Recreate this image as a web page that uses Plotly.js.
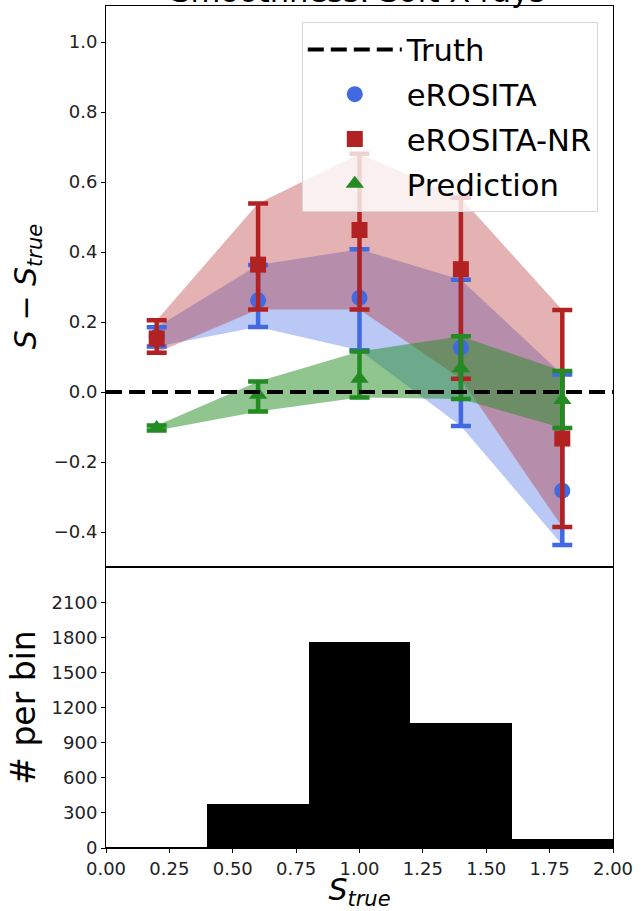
<!DOCTYPE html>
<html>
<head>
<meta charset="utf-8">
<script src="https://cdn.plot.ly/plotly-3.0.1.min.js"></script>
<style>html,body{margin:0;padding:0;background:#fff;}#chart{width:641px;height:911px;}</style>
</head>
<body>
<div id="chart"></div>
<script>
// ---- data ----
var binCenters = [0.2, 0.6, 1.0, 1.4, 1.8];
var binWidth = 0.4;
var counts = [10, 380, 1768, 1068, 77];

var erositaMid   = [0.158, 0.262, 0.269, 0.127, -0.282];
var erositaHigh  = [0.185, 0.363, 0.408, 0.321, 0.050];
var erositaLow   = [0.130, 0.186, 0.119, -0.097, -0.437];

var nrMid   = [0.153, 0.364, 0.463, 0.351, -0.133];
var nrHigh  = [0.205, 0.539, 0.681, 0.555, 0.234];
var nrLow   = [0.112, 0.236, 0.236, 0.038, -0.386];

var predMid  = [-0.103, -0.008, 0.038, 0.068, -0.023];
var predHigh = [-0.096, 0.030, 0.116, 0.159, 0.060];
var predLow  = [-0.110, -0.056, -0.016, -0.020, -0.103];

var topTicks = [-0.4, -0.2, 0.0, 0.2, 0.4, 0.6, 0.8, 1.0];
var histTicks = [0, 300, 600, 900, 1200, 1500, 1800, 2100];
var xTicks = [0, 0.25, 0.5, 0.75, 1.0, 1.25, 1.5, 1.75, 2.0];

// ---- helpers ----
function band(lo, hi, color) {
  return {
    x: binCenters.concat(binCenters.slice().reverse()),
    y: hi.concat(lo.slice().reverse()),
    xaxis: 'x2', yaxis: 'y2', type: 'scatter', mode: 'lines',
    fill: 'toself', fillcolor: color, line: {width: 0},
    hoverinfo: 'skip', showlegend: false
  };
}
function errs(mid, lo, hi, name, color, symbol, rank) {
  return {
    x: binCenters, y: mid, name: name, xaxis: 'x2', yaxis: 'y2',
    type: 'scatter', mode: 'markers',
    marker: {color: color, size: 16, symbol: symbol},
    error_y: {type: 'data', symmetric: false,
      array: hi.map(function(v, i){ return v - mid[i]; }),
      arrayminus: lo.map(function(v, i){ return mid[i] - v; }),
      color: color, thickness: 4.5, width: 10},
    legendgroup: name, legendrank: rank
  };
}
function fmt(v, d) {
  var s = Math.abs(v).toFixed(d);
  return (v < 0 ? '\u2212' : '') + s;
}

var blue = '#4169E1', red = '#B22222', green = '#228B22';

var traces = [
  band(erositaLow, erositaHigh, 'rgba(65,105,225,0.37)'),
  band(nrLow, nrHigh, 'rgba(178,34,34,0.35)'),
  band(predLow, predHigh, 'rgba(34,139,34,0.5)'),
  errs(erositaMid, erositaLow, erositaHigh, 'eROSITA', blue, 'circle', 2),
  errs(nrMid, nrLow, nrHigh, 'eROSITA-NR', red, 'square', 3),
  errs(predMid, predLow, predHigh, 'Prediction', green, 'triangle-up', 4),
  {x: [0, 2], y: [0, 0], name: 'Truth', xaxis: 'x2', yaxis: 'y2',
   type: 'scatter', mode: 'lines',
   line: {color: 'black', width: 4, dash: '16px,7px'},
   legendgroup: 'Truth', legendrank: 1},
  {x: binCenters, y: counts, type: 'bar', width: binWidth,
   marker: {color: 'black', line: {width: 0}}, xaxis: 'x', yaxis: 'y',
   showlegend: false, hoverinfo: 'skip'}
];

var split = (848 - 567) / 842;
var tickFont = {family: 'DejaVu Sans', size: 18, color: '#222'};

var layout = {
  width: 641, height: 911,
  margin: {l: 106, r: 28, t: 6, b: 63},
  paper_bgcolor: 'white', plot_bgcolor: 'white',
  font: {family: 'DejaVu Sans', color: 'black'},
  showlegend: true,
  bargap: 0,
  xaxis: {
    domain: [0, 1], anchor: 'y', range: [0, 2],
    tickmode: 'array', tickvals: xTicks, ticktext: xTicks.map(function(v){ return v.toFixed(2); }),
    ticks: 'outside', ticklen: 4, tickcolor: 'black', tickfont: tickFont,
    showline: true, linecolor: 'black', linewidth: 1, mirror: true,
    showgrid: false, zeroline: false,
    title: {text: '<i>S</i><sub><i>true</i></sub>', font: {size: 30}, standoff: 4}
  },
  yaxis: {
    domain: [0, split], anchor: 'x', range: [0, 2408],
    tickmode: 'array', tickvals: histTicks, ticktext: histTicks.map(String),
    ticks: 'outside', ticklen: 4, tickcolor: 'black', tickfont: tickFont,
    showline: true, linecolor: 'black', linewidth: 1, mirror: true,
    showgrid: false, zeroline: false,
    title: {text: '# per bin', font: {size: 33}, standoff: 6}
  },
  xaxis2: {
    domain: [0, 1], anchor: 'y2', range: [0, 2], matches: 'x',
    showticklabels: false, ticks: '',
    showline: true, linecolor: 'black', linewidth: 1, mirror: true,
    showgrid: false, zeroline: false
  },
  yaxis2: {
    domain: [split, 1], anchor: 'x2', range: [-0.5, 1.103],
    tickmode: 'array', tickvals: topTicks, ticktext: topTicks.map(function(v){ return fmt(v, 1); }),
    ticks: 'outside', ticklen: 4, tickcolor: 'black', tickfont: tickFont,
    showline: true, linecolor: 'black', linewidth: 1, mirror: true,
    showgrid: false, zeroline: false,
    title: {text: '<i>S</i> \u2212 <i>S</i><sub><i>true</i></sub>', font: {size: 30}, standoff: 8}
  },
  legend: {
    x: 0.97, xanchor: 'right', y: 0.981, yanchor: 'top',
    bgcolor: 'rgba(255,255,255,0.8)', bordercolor: '#d6d6d6', borderwidth: 1,
    font: {family: 'DejaVu Sans', size: 30.6, color: 'black'},
    traceorder: 'grouped', tracegroupgap: 2, itemwidth: 94
  },
  annotations: [{
    text: 'Smoothness: Soft X-rays', xref: 'paper', yref: 'paper',
    x: 0.497, y: 1, xanchor: 'center', yanchor: 'bottom', yshift: -5,
    showarrow: false, font: {family: 'DejaVu Sans', size: 30.6, color: 'black'}
  }]
};

Plotly.newPlot('chart', traces, layout, {displayModeBar: false, staticPlot: true});
</script>
</body>
</html>
